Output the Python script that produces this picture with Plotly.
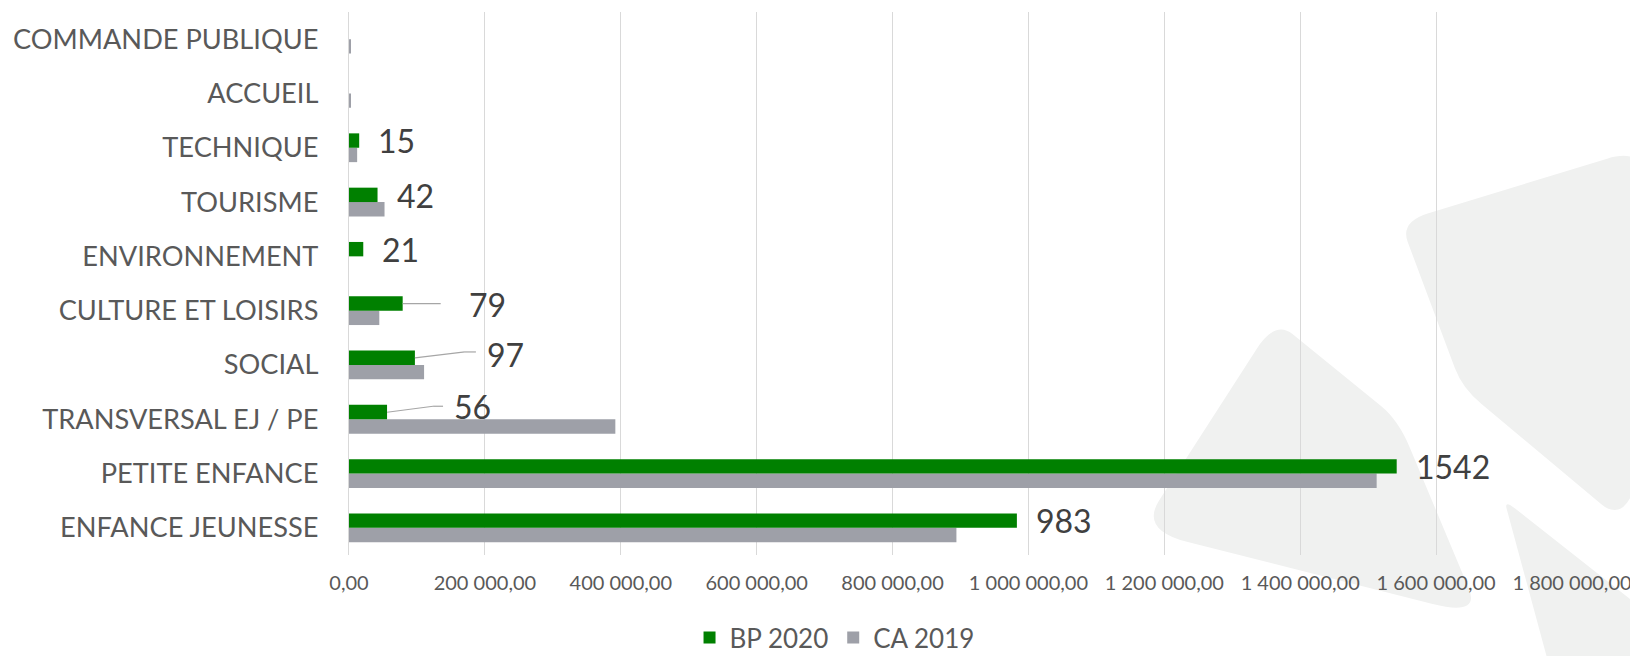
import plotly.graph_objects as go

# ---- data (bottom to top) ----
categories = ["ENFANCE JEUNESSE", "PETITE ENFANCE", "TRANSVERSAL EJ / PE", "SOCIAL",
              "CULTURE ET LOISIRS", "ENVIRONNEMENT", "TOURISME", "TECHNIQUE",
              "ACCUEIL", "COMMANDE PUBLIQUE"]
bp_2020 = [983000, 1542000, 56000, 97000, 79000, 21000, 42000, 15000, 0, 0]
ca_2019 = [894000, 1512500, 392000, 110500, 44600, 0, 52300, 12000, 2000, 2000]
tick_vals = [0, 200000, 400000, 600000, 800000, 1000000, 1200000, 1400000, 1600000, 1800000]
tick_text = ["0,00", "200 000,00", "400 000,00", "600 000,00", "800 000,00", "1 000 000,00",
             "1 200 000,00", "1 400 000,00", "1 600 000,00", "1 800 000,00"]

# ---- style ----
PAGE_OFF = 8                      # default body margin of the page
W, H = 1638 - PAGE_OFF, 656 - PAGE_OFF
PX_L, PX_R, PX_T, PX_B = 349, 1571.7, 12, 555   # plot area on screen
ML, MT = PX_L - PAGE_OFF, PX_T - PAGE_OFF
MR = W - (PX_R - PAGE_OFF)
MB = H - (PX_B - PAGE_OFF)
PW, PH = PX_R - PX_L, PX_B - PX_T
GREEN = "#008000"
GRAY = "#9ea0a8"
FONT = "Lato"

fig = go.Figure()
fig.add_trace(go.Bar(y=categories, x=ca_2019, orientation="h", name="CA 2019",
                     marker=dict(color=GRAY, line=dict(width=0)), legendrank=2))
fig.add_trace(go.Bar(y=categories, x=bp_2020, orientation="h", name="BP 2020",
                     marker=dict(color=GREEN, line=dict(width=0)), legendrank=1))

# data labels (values in thousands) with leader lines for moved labels
moved = {  # category: (xshift, yshift, leader points in px relative to bar end)
    "CULTURE ET LOISIRS": (64, -1, [(0, 0), (38, 0)]),
    "SOCIAL": (70, 3, [(0, 0), (50, 6), (61, 6)]),
    "TRANSVERSAL EJ / PE": (65, 6, [(0, 0), (46, 6), (56, 6)]),
}
BAR_OFF = 7  # green bar centre above category centre (px)
for cat, v in zip(categories, bp_2020):
    if v <= 0:
        continue
    xs, ys = 17, 0
    if cat in moved:
        xs, ys, pts = moved[cat]
        for (x0, y0), (x1, y1) in zip(pts[:-1], pts[1:]):
            fig.add_shape(type="line", xref="x", yref="y", xsizemode="pixel", ysizemode="pixel",
                          xanchor=v, yanchor=cat, x0=x0, x1=x1, y0=BAR_OFF + y0, y1=BAR_OFF + y1,
                          line=dict(color="#a6a6a6", width=1.2))
    fig.add_annotation(x=v, y=cat, text=f"{v/1000:.0f}", showarrow=False, xanchor="left",
                       yanchor="middle", xshift=xs, yshift=BAR_OFF + ys,
                       font=dict(family=FONT, size=32, color="#404040"))

# background watermark shapes (screen pixel coordinates -> paper)
def px2paper(pts):
    return [((x - PX_L) / PW, (PX_B - y) / PH) for x, y in pts]

def rounded_path(pts, r=0.25):
    n = len(pts)
    segs = []
    for i in range(n):
        p0 = pts[i - 1]
        p1 = pts[i]
        p2 = pts[(i + 1) % n]
        a = (p1[0] + (p0[0] - p1[0]) * r, p1[1] + (p0[1] - p1[1]) * r)
        b = (p1[0] + (p2[0] - p1[0]) * r, p1[1] + (p2[1] - p1[1]) * r)
        segs.append((a, p1, b))
    d = f"M{segs[0][2][0]},{segs[0][2][1]}"
    for i in range(1, n + 1):
        a, c, b = segs[i % n]
        d += f" L{a[0]},{a[1]} Q{c[0]},{c[1]} {b[0]},{b[1]}"
    return d + " Z"

wm_shapes = [
    ([(1400, 222), (1635, 150), (1720, 300), (1620, 520), (1462, 388)], 0.12),
    ([(1275, 320), (1398, 420), (1480, 616), (1140, 530)], 0.14),
    ([(1504, 500), (1720, 670), (1550, 670)], 0.05),
]
for pts, r in wm_shapes:
    fig.add_shape(type="path", xref="paper", yref="paper", layer="below",
                  path=rounded_path(px2paper(pts), r), fillcolor="#f0f1f0",
                  line=dict(width=0))

fig.update_layout(
    width=W, height=H,
    margin=dict(l=ML, r=MR, t=MT, b=MB, autoexpand=False),
    barmode="group", bargap=0.47, bargroupgap=0,
    paper_bgcolor="white", plot_bgcolor="rgba(0,0,0,0)",
    font=dict(family=FONT, color="#595959"),
    showlegend=True,
    legend=dict(orientation="h", x=0.397, xanchor="center", y=-0.152, yanchor="middle",
                font=dict(family=FONT, size=26, color="#595959"), bgcolor="rgba(0,0,0,0)"),
    xaxis=dict(range=[0, 1800000], tickvals=tick_vals, ticktext=tick_text, automargin=False,
               showgrid=True, gridcolor="#d9d9d9", gridwidth=1.3, zeroline=False,
               showline=False, ticks="", tickfont=dict(family=FONT, size=20, color="#595959"),
               ticklabelstandoff=14, fixedrange=True),
    yaxis=dict(type="category", categoryorder="array", categoryarray=categories, automargin=False,
               showgrid=False, showline=True, linecolor="#d9d9d9", linewidth=1.3,
               ticks="", tickfont=dict(family=FONT, size=27.2, color="#595959"),
               ticklabelstandoff=24, fixedrange=True),
)

fig.write_html("out.html")
